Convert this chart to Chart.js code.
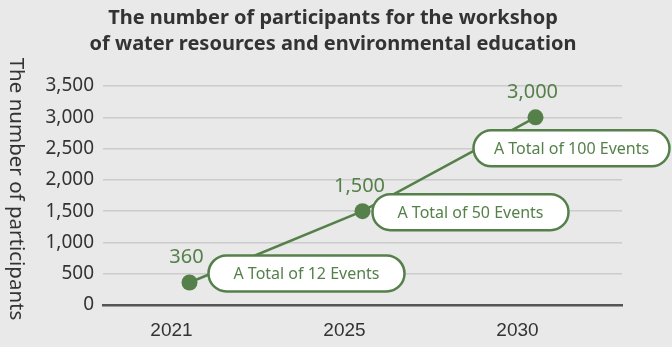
<!DOCTYPE html>
<html>
<head>
<meta charset="utf-8">
<script src="https://cdn.jsdelivr.net/npm/chart.js@4/dist/chart.umd.min.js"></script>
<style>
  html, body { margin: 0; padding: 0; background: #e9e9e9; }
  #wrap { width: 672px; height: 347px; position: relative; }
</style>
</head>
<body>
<div id="wrap"><canvas id="c" width="672" height="347"></canvas></div>
<script>
const titleLines = ['The number of participants for the workshop', 'of water resources and environmental education'];
const yAxisTitle = 'The number of participants';
const categories = ['2021', '2025', '2030'];
const participants = [360, 1500, 3000];
const valueLabels = ['360', '1,500', '3,000'];
const eventLabels = ['A Total of 12 Events', 'A Total of 50 Events', 'A Total of 100 Events'];
const yMin = 0, yMax = 3500, yStep = 500;

const GREEN = '#55804a';
const TEXT = '#333333';
const FONT = "'Liberation Sans', Arial, sans-serif";
const WIDE = "'Noto Sans', 'Liberation Sans', sans-serif";

// callout offsets relative to each point (pixels)
const calloutOffsets = [{dx: 117, dy: -9}, {dx: 108, dy: 1}, {dx: 36, dy: 31}];

const decor = {
  id: 'decor',
  afterDatasetsDraw(chart) {
    const ctx = chart.ctx;
    const meta = chart.getDatasetMeta(0);
    ctx.save();
    // title (centred on the full canvas)
    ctx.fillStyle = TEXT;
    ctx.font = 'bold 20px ' + WIDE;
    ctx.textAlign = 'center';
    ctx.textBaseline = 'middle';
    titleLines.forEach((line, i) => ctx.fillText(line, 333, 18 + i * 26));
    // callouts
    meta.data.forEach((pt, i) => {
      const off = calloutOffsets[i];
      const cx = pt.x + off.dx, cy = pt.y + off.dy;
      const w = 196, h = 36, r = h / 2;
      ctx.beginPath();
      ctx.roundRect(cx - w / 2, cy - h / 2, w, h, r);
      ctx.fillStyle = '#ffffff';
      ctx.fill();
      ctx.lineWidth = 2.5;
      ctx.strokeStyle = GREEN;
      ctx.stroke();
      ctx.fillStyle = GREEN;
      ctx.font = '16px ' + WIDE;
      ctx.textAlign = 'center';
      ctx.textBaseline = 'middle';
      ctx.fillText(eventLabels[i], cx, cy + 1);
    });
    // value labels
    meta.data.forEach((pt, i) => {
      ctx.fillStyle = GREEN;
      ctx.font = '20px ' + WIDE;
      ctx.textAlign = 'center';
      ctx.textBaseline = 'middle';
      ctx.fillText(valueLabels[i], pt.x - 3, pt.y - 25);
    });
    // y axis title (reads top to bottom)
    ctx.save();
    ctx.translate(16, 189);
    ctx.rotate(Math.PI / 2);
    ctx.fillStyle = TEXT;
    ctx.font = '20.5px ' + WIDE;
    ctx.textAlign = 'center';
    ctx.textBaseline = 'middle';
    ctx.fillText(yAxisTitle, 0, 0);
    ctx.restore();
    ctx.restore();
  }
};

new Chart(document.getElementById('c'), {
  type: 'line',
  data: {
    labels: categories,
    datasets: [{
      data: participants,
      borderColor: GREEN,
      backgroundColor: GREEN,
      borderWidth: 2.5,
      pointRadius: 8,
      pointBackgroundColor: GREEN,
      pointBorderWidth: 0,
      tension: 0
    }]
  },
  options: {
    responsive: false,
    animation: false,
    layout: { padding: { left: 0, right: 50, top: 86, bottom: 0 } },
    plugins: {
      legend: { display: false },
      tooltip: { enabled: false },
      title: { display: false }
    },
    scales: {
      x: {
        type: 'category',
        offset: true,
        grid: { display: false, drawTicks: false },
        border: { display: true, color: '#555555', width: 2.5 },
        ticks: { color: TEXT, font: { family: FONT, size: 19 }, padding: 14, labelOffset: -18 },
        afterFit(scale) { scale.height = 42; }
      },
      y: {
        min: yMin, max: yMax,
        ticks: {
          stepSize: yStep,
          color: TEXT,
          font: { family: WIDE, size: 19 },
          padding: 9,
          callback: v => v.toLocaleString('en-US')
        },
        grid: { color: '#cccccc', lineWidth: 1.5, drawTicks: false },
        border: { display: false },
        afterFit(scale) { scale.width = 103; }
      }
    }
  },
  plugins: [decor]
});
</script>
</body>
</html>
